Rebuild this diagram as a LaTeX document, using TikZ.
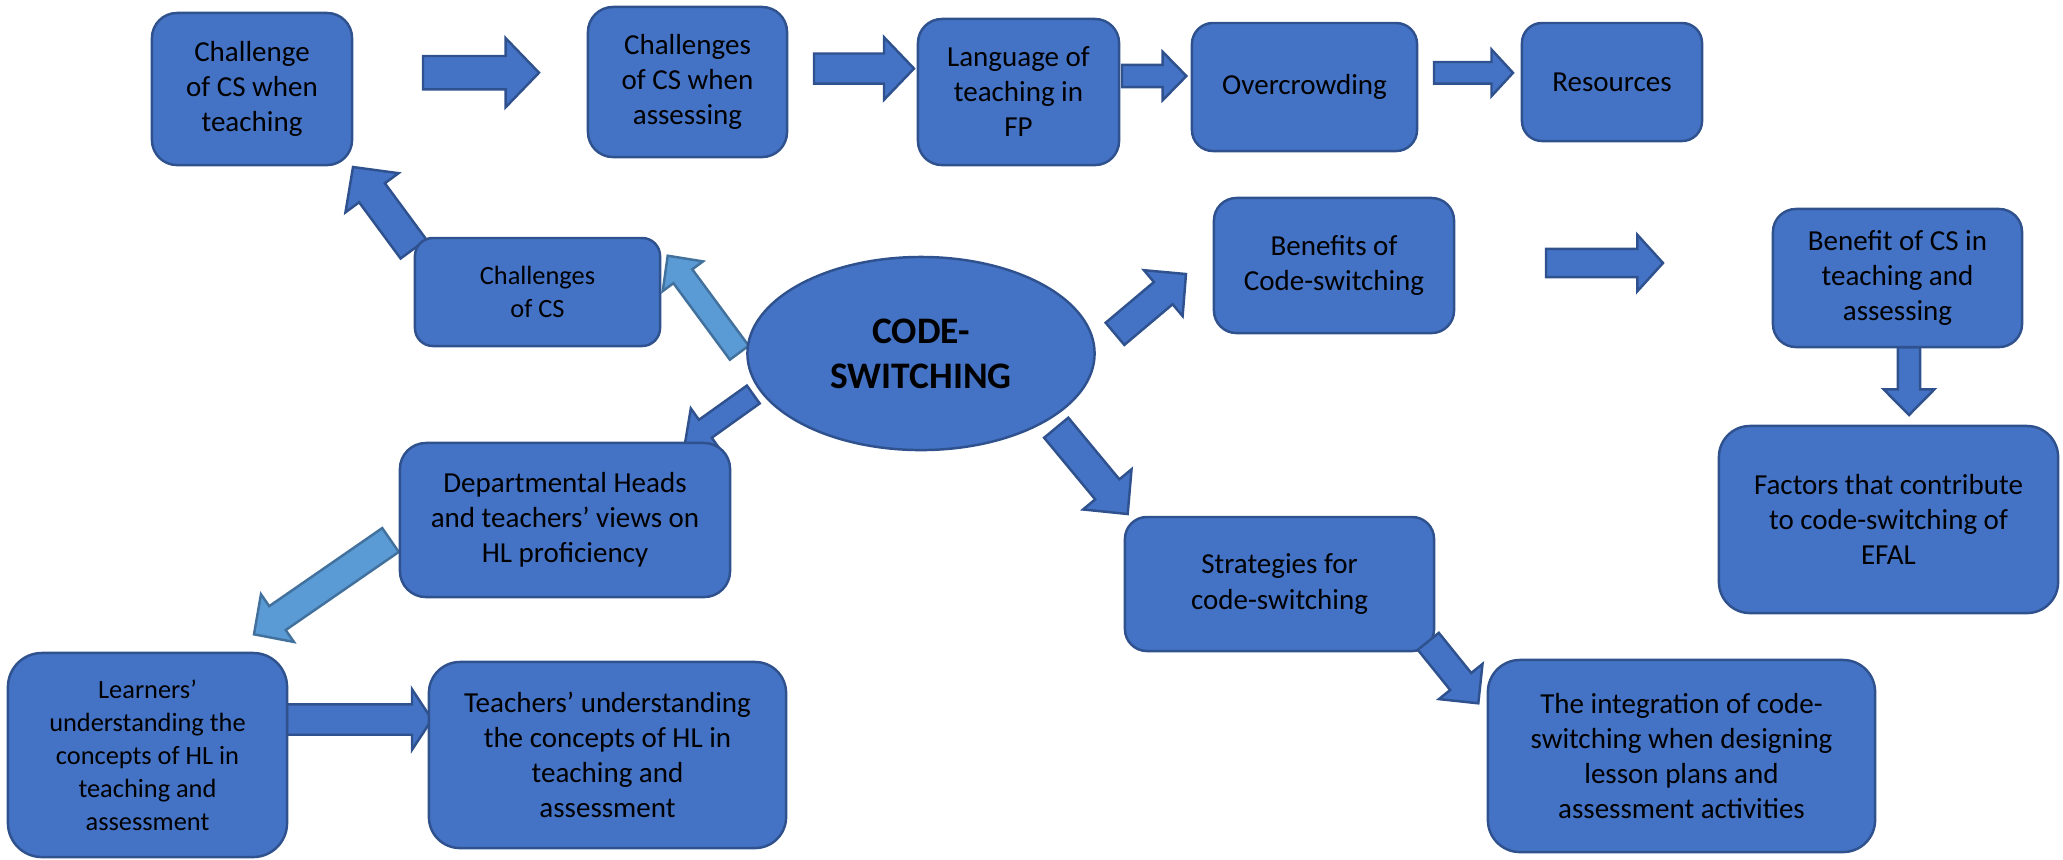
\documentclass[tikz,border=0pt]{standalone}
\usepackage{fontspec}
\setmainfont{Carlito}
\usetikzlibrary{calc,shapes.geometric}
\definecolor{boxfill}{HTML}{4472C4}
\definecolor{boxline}{HTML}{2F528F}
\definecolor{lightfill}{HTML}{5B9BD5}
\definecolor{lightline}{HTML}{41719C}
\newcommand\txtstd{\fontsize{8.25pt}{9.96pt}\selectfont}
\newcommand\txtsml{\fontsize{7.5pt}{9.4pt}\selectfont}
\newcommand\txthub{\fontsize{10.65pt}{12.8pt}\selectfont\bfseries}
% block arrow: #2 tail, #3 tip, #4 half shaft width, #5 half head width, #6 head length
\newcommand\blockarrow[6][]{%
  \path[blockarrow,#1] let \p1=(#2), \p2=(#3), \n1={atan2(\y2-\y1,\x2-\x1)} in
    ($(#2)+(\n1+90:#4)$) -- ($(#3)!#6!(#2)+(\n1+90:#4)$) -- ($(#3)!#6!(#2)+(\n1+90:#5)$)
    -- (#3) -- ($(#3)!#6!(#2)+(\n1-90:#5)$) -- ($(#3)!#6!(#2)+(\n1-90:#4)$)
    -- ($(#2)+(\n1-90:#4)$) -- cycle;}
\tikzset{
  box/.style={draw=boxline, fill=boxfill, line width=0.7pt, align=center, inner sep=0pt, text=black, font=\txtstd},
  blockarrow/.style={draw=boxline, fill=boxfill, line width=0.7pt, line join=miter},
  lightarrow/.style={draw=lightline, fill=lightfill},
}
\begin{document}
\begin{tikzpicture}[x=0.01cm, y=-0.01cm]
\useasboundingbox (0,0) rectangle (2063,859);

% arrow end points
\coordinate (a1t) at (423,72.7);    \coordinate (a1h) at (539,72.7);
\coordinate (a2t) at (814,68.5);    \coordinate (a2h) at (914,68.5);
\coordinate (a3t) at (1122,76);     \coordinate (a3h) at (1186.4,76);
\coordinate (a4t) at (1434,72.8);   \coordinate (a4h) at (1513,72.8);
\coordinate (a5t) at (1546,263);    \coordinate (a5h) at (1663,263);
\coordinate (a6t) at (1909,347);    \coordinate (a6h) at (1909,415);
\coordinate (a7t) at (413.5,249);   \coordinate (a7h) at (353,167);
\coordinate (a8t) at (739.3,352.7); \coordinate (a8h) at (667.7,255.7);
\coordinate (a9t) at (753.3,394.5); \coordinate (a9h) at (685,443.3);
\coordinate (a10t) at (390.5,540);  \coordinate (a10h) at (254,634.3);
\coordinate (a11t) at (1115,333.8); \coordinate (a11h) at (1186,274);
\coordinate (a12t) at (1056.2,427.7); \coordinate (a12h) at (1127.7,514);
\coordinate (a13t) at (1428.3,641.3); \coordinate (a13h) at (1478.3,703.3);
\coordinate (a14t) at (287,719.5);  \coordinate (a14h) at (432,719.5);

% block arrows
\blockarrow{a1t}{a1h}{0.167cm}{0.345cm}{0.333cm}
\blockarrow{a2t}{a2h}{0.15cm}{0.313cm}{0.30cm}
\blockarrow{a3t}{a3h}{0.112cm}{0.242cm}{0.237cm}
\blockarrow{a4t}{a4h}{0.108cm}{0.233cm}{0.215cm}
\blockarrow{a5t}{a5h}{0.142cm}{0.283cm}{0.257cm}
\blockarrow{a6t}{a6h}{0.112cm}{0.254cm}{0.257cm}
\blockarrow{a7t}{a7h}{0.16cm}{0.33cm}{0.32cm}
\blockarrow[lightarrow]{a8t}{a8h}{0.117cm}{0.25cm}{0.255cm}
\blockarrow{a9t}{a9h}{0.11cm}{0.25cm}{0.25cm}
\blockarrow[lightarrow]{a10t}{a10h}{0.145cm}{0.29cm}{0.285cm}
\blockarrow{a11t}{a11h}{0.145cm}{0.30cm}{0.297cm}
\blockarrow{a12t}{a12h}{0.157cm}{0.315cm}{0.32cm}
\blockarrow{a14t}{a14h}{0.152cm}{0.303cm}{0.20cm}

% boxes
\node[box, minimum width=2.00cm, minimum height=1.52cm, rounded corners=0.25cm] (n1) at (252,89) {Challenge\\of CS when\\teaching};
\node[box, minimum width=1.99cm, minimum height=1.50cm, rounded corners=0.25cm] (n2) at (687.5,82) {Challenges\\of CS when\\assessing};
\node[box, minimum width=2.01cm, minimum height=1.46cm, rounded corners=0.24cm] (n3) at (1018.5,92) {Language of\\teaching in\\FP};
\node[box, minimum width=2.25cm, minimum height=1.28cm, rounded corners=0.21cm] (n4) at (1304.5,87) {Overcrowding};
\node[box, minimum width=1.80cm, minimum height=1.18cm, rounded corners=0.20cm] (n5) at (1612,82) {Resources};
\node[box, font=\txtsml, minimum width=2.45cm, minimum height=1.08cm, rounded corners=0.18cm] (n6) at (537.5,292) {Challenges\\of CS};
\node[box, ellipse, font=\txthub, minimum width=3.47cm, minimum height=1.93cm] (hub) at (921,353.5) {CODE-\\SWITCHING};
\node[box, minimum width=2.40cm, minimum height=1.35cm, rounded corners=0.225cm] (n7) at (1334,265.5) {Benefits of\\Code-switching};
\node[box, minimum width=2.49cm, minimum height=1.38cm, rounded corners=0.23cm] (n8) at (1897.5,278) {Benefit of CS in\\teaching and\\assessing};
\node[box, minimum width=3.39cm, minimum height=1.87cm, rounded corners=0.31cm] (n9) at (1888.5,519.5) {Factors that contribute\\to code-switching of\\EFAL};
\node[box, minimum width=3.09cm, minimum height=1.34cm, rounded corners=0.22cm] (n10) at (1279.5,584) {Strategies for\\code-switching};
\node[box, minimum width=3.87cm, minimum height=1.92cm, rounded corners=0.32cm] (n11) at (1681.5,756) {The integration of code-\\switching when designing\\lesson plans and\\assessment activities};
\node[box, minimum width=3.30cm, minimum height=1.54cm, rounded corners=0.26cm] (n12) at (565,520) {Departmental Heads\\and teachers’ views on\\HL proficiency};
\node[box, font=\txtsml, minimum width=2.79cm, minimum height=2.04cm, rounded corners=0.34cm] (n13) at (147.5,755) {Learners’\\understanding the\\concepts of HL in\\teaching and\\assessment};
\node[box, minimum width=3.57cm, minimum height=1.86cm, rounded corners=0.31cm] (n14) at (607.5,755) {Teachers’ understanding\\the concepts of HL in\\teaching and\\assessment};

% arrow lying over the corner of the strategies box
\blockarrow{a13t}{a13h}{0.135cm}{0.28cm}{0.28cm}
\end{tikzpicture}
\end{document}
